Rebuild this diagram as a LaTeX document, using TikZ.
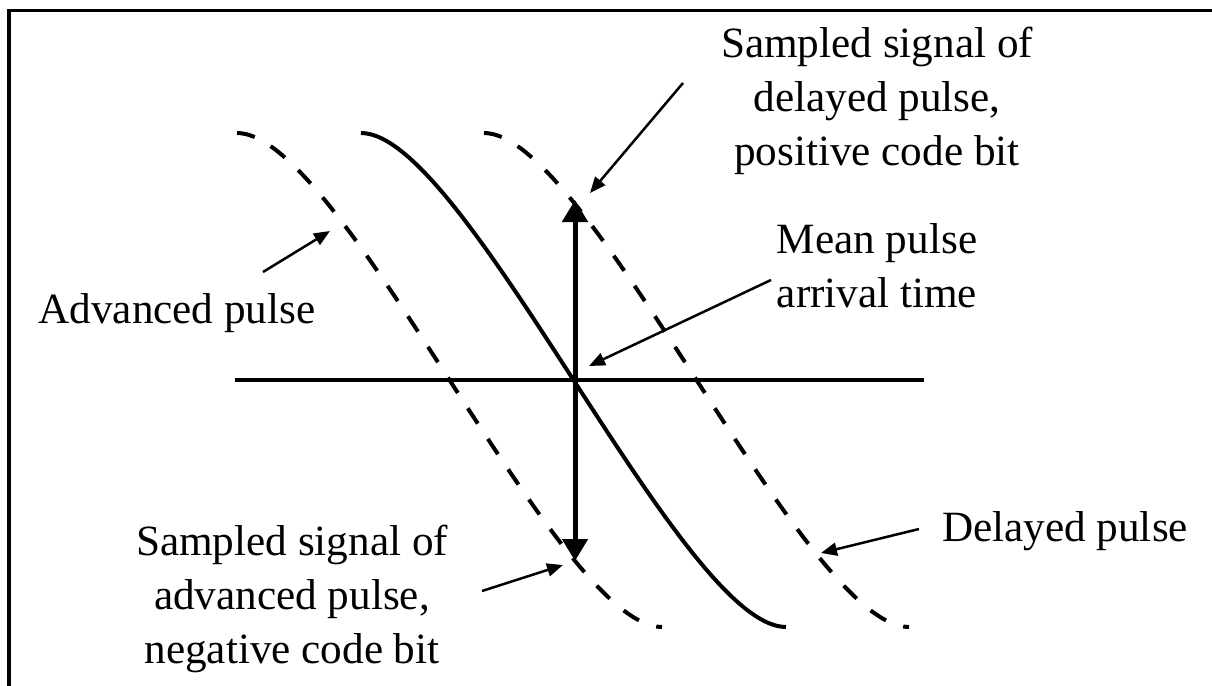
\documentclass[tikz,border=0pt]{standalone}
\usepackage{fontspec}
\setmainfont{Liberation Serif}
\usetikzlibrary{arrows.meta}
\begin{document}
\begin{tikzpicture}[x=0.5pt,y=-0.5pt,
  % anchor=base of a multi-line label sits on its last line
  lbl/.style={font=\fontsize{21.6}{27}\selectfont, align=center, inner sep=0pt, anchor=base},
  pulse/.style={line width=2pt},
  dashpulse/.style={line width=2pt, dash pattern=on 9.15pt off 9.15pt},
  pointer/.style={line width=1.25pt, -{Triangle[length=8pt,width=6.5pt]}},
  sample/.style={line width=2.5pt, {Triangle[length=11pt,width=12.5pt]}-{Triangle[length=11pt,width=12.5pt]}},
]
\useasboundingbox (0,0) rectangle (1212,686);

% open frame: top and left edges only
\draw[line width=1.6pt] (9,686) -- (9,10.5) -- (1212,10.5);

% time axis
\coordinate (axL) at (235,380);
\coordinate (axR) at (924,380);
\draw[line width=2pt] (axL) -- (axR);

% falling pulse edges: advanced, mean, delayed
\draw[dashpulse] (237,133) .. controls (342,133) and (557,627) .. (662,627);
\draw[pulse]     (361,133) .. controls (466,133) and (681,627) .. (786,627);
\draw[dashpulse] (484,133) .. controls (589,133) and (804,627) .. (909,627);

% sampling instant and sampled values
\coordinate (mid) at (575,380);
\coordinate (hi) at (575,200);
\coordinate (lo) at (575,561);
\draw[sample] (lo) -- (hi);

% labels
\node[lbl] (sampD) at (877,165) {Sampled signal of\\delayed pulse,\\positive code bit};
\node[lbl] (mean)  at (877,307) {Mean pulse\\arrival time};
\node[lbl] (adv)   at (177,323) {Advanced pulse};
\node[lbl] (del)   at (1065,541) {Delayed pulse};
\node[lbl] (sampA) at (292,663) {Sampled signal of\\advanced pulse,\\negative code bit};

% pointers from labels to the curves
\coordinate (pD0) at (683,83);   \coordinate (pD1) at (590,193);
\coordinate (pM0) at (771,280);  \coordinate (pM1) at (589,366);
\coordinate (pA0) at (263,272);  \coordinate (pA1) at (330,231);
\coordinate (pL0) at (919,529);  \coordinate (pL1) at (821,553);
\coordinate (pS0) at (482,591);  \coordinate (pS1) at (563,565);
\draw[pointer] (pD0) -- (pD1);
\draw[pointer] (pM0) -- (pM1);
\draw[pointer] (pA0) -- (pA1);
\draw[pointer] (pL0) -- (pL1);
\draw[pointer] (pS0) -- (pS1);
\end{tikzpicture}
\end{document}
